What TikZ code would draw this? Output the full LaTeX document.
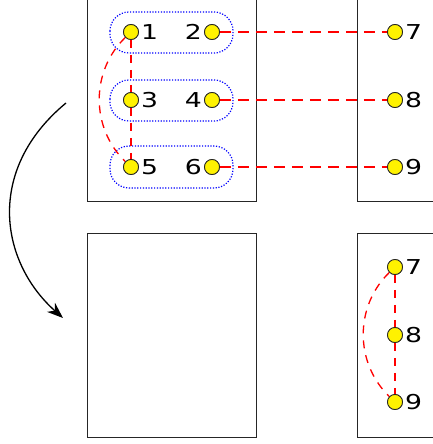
\documentclass[tikz,border=0pt]{standalone}
\usepackage{fontspec}
\setmainfont{DejaVu Sans}
\newfontfamily\numfont[FakeStretch=1.3]{DejaVu Sans}
\usetikzlibrary{arrows.meta}
\begin{document}
\begin{tikzpicture}[x=1pt,y=-1pt,
  frame/.style={draw=black!85,line width=1pt},
  pt/.style={circle,draw=black!85,fill=yellow,line width=0.8pt,inner sep=0pt,minimum size=15pt},
  lbl/.style={font=\numfont\fontsize{20.5}{23}\selectfont,inner sep=2pt},
  link/.style={draw=red,line width=1.3pt,dash pattern=on 11pt off 7pt},
  vlink/.style={link,dash pattern=on 8pt off 7pt},
  group/.style={draw=blue,line width=1.2pt,dash pattern=on 1.2pt off 1.6pt,rounded corners=19pt}]
\useasboundingbox (0,0) rectangle (432,444);

% frames
\draw[frame] (87,-5) rectangle (256,201);
\draw[frame] (357,-5) rectangle (440,201);
\draw[frame] (87,233) rectangle (256,437);
\draw[frame] (357,233) rectangle (440,437);

% groups of paired points
\draw[group] (110,12) rectangle (233,53);
\draw[group] (110,80) rectangle (233,121);
\draw[group] (110,146) rectangle (233,188);

% points, upper row
\node[pt] (p1) at (131,32) {};
\node[pt] (p2) at (212,32) {};
\node[pt] (p3) at (131,100) {};
\node[pt] (p4) at (212,100) {};
\node[pt] (p5) at (131,167) {};
\node[pt] (p6) at (212,167) {};
\node[pt] (p7) at (395,32) {};
\node[pt] (p8) at (395,100) {};
\node[pt] (p9) at (395,167) {};

\node[lbl,anchor=west] (l1) at (p1.east) {1};
\node[lbl,anchor=east] (l2) at (p2.west) {2};
\node[lbl,anchor=west] (l3) at (p3.east) {3};
\node[lbl,anchor=east] (l4) at (p4.west) {4};
\node[lbl,anchor=west] (l5) at (p5.east) {5};
\node[lbl,anchor=east] (l6) at (p6.west) {6};
\node[lbl,anchor=west] (l7) at (p7.east) {7};
\node[lbl,anchor=west] (l8) at (p8.east) {8};
\node[lbl,anchor=west] (l9) at (p9.east) {9};

% points, lower row
\node[pt] (q7) at (395,267) {};
\node[pt] (q8) at (395,335) {};
\node[pt] (q9) at (395,402) {};
\node[lbl,anchor=west] (m7) at (q7.east) {7};
\node[lbl,anchor=west] (m8) at (q8.east) {8};
\node[lbl,anchor=west] (m9) at (q9.east) {9};

% dashed links
\draw[link] (p2) -- (p7);
\draw[link] (p4) -- (p8);
\draw[link] (p6) -- (p9);
\draw[vlink] (p1) -- (p3);
\draw[vlink] (p3) -- (p5);
\draw[vlink] (p1) to[bend right=46] (p5);
\draw[vlink] (q7) -- (q8);
\draw[vlink] (q8) -- (q9);
\draw[vlink] (q7) to[bend right=46] (q9);

% redraw points on top of links
\foreach \n in {p1,p2,p3,p4,p5,p6,p7,p8,p9,q7,q8,q9}
  \path (\n) node[pt] {};

% curved transition arrow
\coordinate (a0) at (66,103);
\coordinate (a1) at (63,318);
\draw[line width=1.3pt,-{Stealth[length=16pt,width=12pt,inset=5pt]}]
  (a0) .. controls (-15,170) and (0,262) .. (a1);
\end{tikzpicture}
\end{document}
